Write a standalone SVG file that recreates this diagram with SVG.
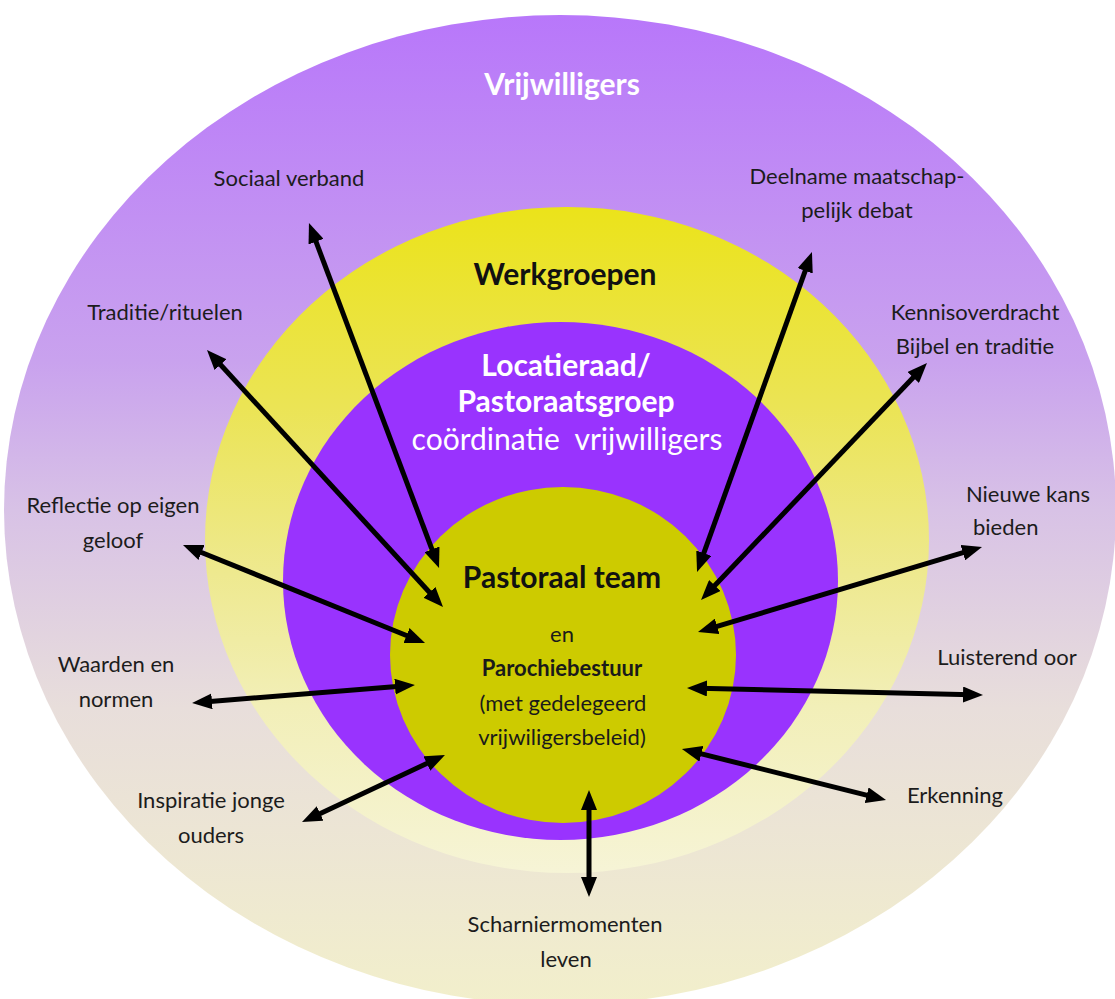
<svg xmlns="http://www.w3.org/2000/svg" width="1115" height="999" viewBox="0 0 1115 999">
  <style>
    .lbl { font-family: Lato, "Open Sans", "Liberation Sans", sans-serif; font-size: 22px; fill: #1c1c1c; text-anchor: middle; }
    .hdr { font-family: Lato, "Open Sans", "Liberation Sans", sans-serif; font-size: 30px; font-weight: bold; text-anchor: middle; }
    .wht { fill: #ffffff; }
    .blk { fill: #111111; }
    .inner { font-family: Lato, "Open Sans", "Liberation Sans", sans-serif; font-size: 22px; fill: #1a1a1a; text-anchor: middle; }
    .arrow { stroke: #000000; stroke-width: 5; fill: none; marker-start: url(#ah); marker-end: url(#ah); }
  </style>
  <defs>
    <linearGradient id="gOuter" x1="0" y1="0" x2="0" y2="1">
      <stop offset="0" stop-color="#b877fa"/>
      <stop offset="0.35" stop-color="#c9a2ee"/>
      <stop offset="0.5" stop-color="#d8c2e6"/>
      <stop offset="0.7" stop-color="#e8dedb"/>
      <stop offset="1" stop-color="#f2efcb"/>
    </linearGradient>
    <linearGradient id="gYellow" x1="0" y1="0" x2="0" y2="1">
      <stop offset="0" stop-color="#ebe31a"/>
      <stop offset="0.3" stop-color="#ebe455"/>
      <stop offset="0.55" stop-color="#eee98f"/>
      <stop offset="0.75" stop-color="#f2efb8"/>
      <stop offset="1" stop-color="#f6f4d6"/>
    </linearGradient>
    <marker id="ah" viewBox="0 0 20 16" markerWidth="20" markerHeight="16" markerUnits="userSpaceOnUse" refX="8" refY="8" orient="auto-start-reverse">
      <path d="M0,0 L20,8 L0,16 z" fill="#000000"/>
    </marker>
  </defs>

  <rect x="0" y="0" width="1115" height="999" fill="#ffffff"/>

  <g id="vrijwilligers">
    <ellipse cx="560" cy="510" rx="556" ry="495" fill="url(#gOuter)"/>
    <text class="hdr wht" x="562" y="95">Vrijwilligers</text>
  </g>

  <g id="werkgroepen">
    <ellipse cx="567" cy="540" rx="362" ry="333" fill="url(#gYellow)"/>
    <text class="hdr blk" x="565" y="285">Werkgroepen</text>
  </g>

  <g id="locatieraad">
    <ellipse cx="560.5" cy="581" rx="277.5" ry="259" fill="#9933fe"/>
    <text class="hdr wht" x="566" y="376">Locatieraad/</text>
    <text class="hdr wht" x="566" y="412">Pastoraatsgroep</text>
    <text class="hdr wht" x="567" y="450" style="font-weight:normal" xml:space="preserve">coördinatie  vrijwilligers</text>
  </g>

  <g id="pastoraal-team">
    <ellipse cx="563" cy="655" rx="173" ry="168" fill="#cdcb00"/>
    <text class="hdr blk" x="562" y="588">Pastoraal team</text>
    <text class="inner" x="562" y="642">en</text>
    <text class="inner" x="562" y="676" style="font-weight:bold">Parochiebestuur</text>
    <text class="inner" x="563" y="711">(met gedelegeerd</text>
    <text class="inner" x="562" y="745">vrijwiligersbeleid)</text>
  </g>

  <g id="connectors">
    <line class="arrow" x1="313.2" y1="234.2" x2="434.8" y2="556.8"/>
    <line class="arrow" x1="215.1" y1="358.8" x2="434.9" y2="598.2"/>
    <line class="arrow" x1="194.1" y1="549.5" x2="413.9" y2="638.5"/>
    <line class="arrow" x1="204.0" y1="702.0" x2="403.0" y2="686.0"/>
    <line class="arrow" x1="312.9" y1="816.9" x2="434.1" y2="760.1"/>
    <line class="arrow" x1="589" y1="885" x2="589" y2="802"/>
    <line class="arrow" x1="874.4" y1="797.1" x2="693.6" y2="751.9"/>
    <line class="arrow" x1="971" y1="694.7" x2="699" y2="688.3"/>
    <line class="arrow" x1="970.5" y1="550.4" x2="709.5" y2="628.6"/>
    <line class="arrow" x1="918.7" y1="371.7" x2="709.3" y2="591.3"/>
    <line class="arrow" x1="807.9" y1="263.3" x2="701.1" y2="560.7"/>
  </g>

  <g id="label-sociaal-verband">
    <text class="lbl" x="289" y="186">Sociaal verband</text>
  </g>
  <g id="label-deelname">
    <text class="lbl" x="857" y="184">Deelname maatschap-</text>
    <text class="lbl" x="857" y="218">pelijk debat</text>
  </g>
  <g id="label-traditie">
    <text class="lbl" x="165" y="320">Traditie/rituelen</text>
  </g>
  <g id="label-kennisoverdracht">
    <text class="lbl" x="975" y="320">Kennisoverdracht</text>
    <text class="lbl" x="975" y="354">Bijbel en traditie</text>
  </g>
  <g id="label-reflectie">
    <text class="lbl" x="113" y="513">Reflectie op eigen</text>
    <text class="lbl" x="113" y="548">geloof</text>
  </g>
  <g id="label-nieuwe-kans">
    <text class="lbl" x="1028" y="502">Nieuwe kans</text>
    <text class="lbl" x="973" y="535" style="text-anchor:start">bieden</text>
  </g>
  <g id="label-waarden">
    <text class="lbl" x="116" y="672">Waarden en</text>
    <text class="lbl" x="116" y="707">normen</text>
  </g>
  <g id="label-luisterend-oor">
    <text class="lbl" x="1007" y="665">Luisterend oor</text>
  </g>
  <g id="label-inspiratie">
    <text class="lbl" x="211" y="808">Inspiratie jonge</text>
    <text class="lbl" x="211" y="843">ouders</text>
  </g>
  <g id="label-erkenning">
    <text class="lbl" x="955" y="803">Erkenning</text>
  </g>
  <g id="label-scharniermomenten">
    <text class="lbl" x="565" y="932">Scharniermomenten</text>
    <text class="lbl" x="566" y="967">leven</text>
  </g>
</svg>
